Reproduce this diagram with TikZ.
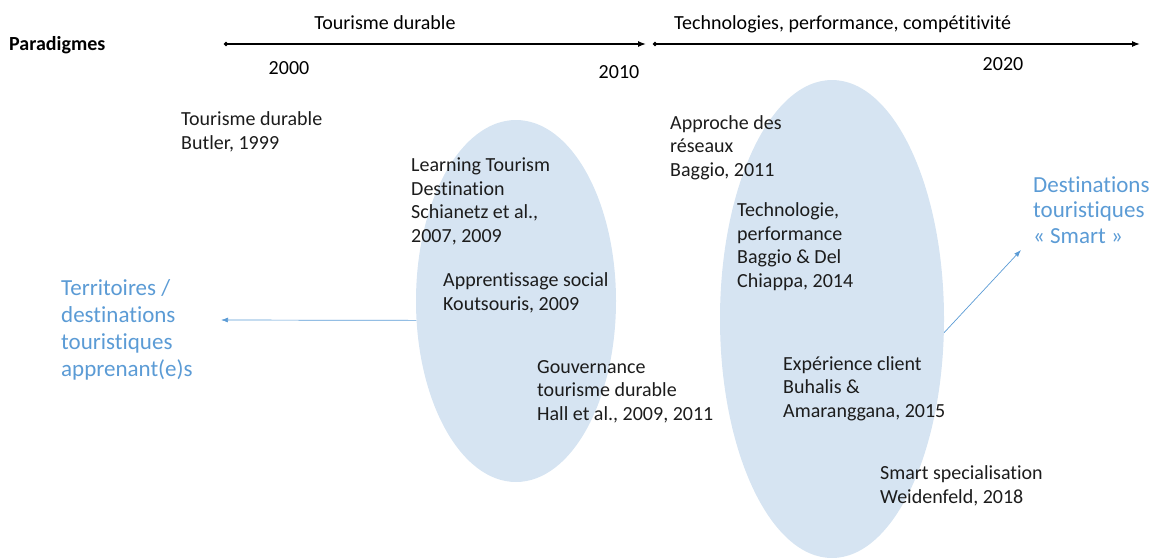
\documentclass[tikz,border=0pt]{standalone}
\usepackage{fontspec}
\setmainfont{Carlito}[Ligatures={NoCommon}]
\usepackage{tikz}
\usetikzlibrary{arrows.meta,shapes.geometric}
\usepackage{xcolor}
\definecolor{ellfill}{HTML}{D6E4F2}
\definecolor{refgray}{HTML}{1C1C1C}
\definecolor{outblue}{HTML}{5B9BD5}

% multi-line nodes: base anchor = baseline of the last line
\tikzset{
  ref/.style={anchor=base west, align=left, inner sep=0pt, text=refgray,
    font=\fontsize{20}{23.5}\selectfont},
  outcome/.style={anchor=base west, align=left, inner sep=0pt, text=outblue,
    font=\fontsize{23}{26}\selectfont},
  year/.style={anchor=base, inner sep=0pt, font=\fontsize{20}{22}\selectfont},
  period/.style={anchor=base, inner sep=0pt, font=\fontsize{20}{22}\selectfont},
  blob/.style={ellipse, fill=ellfill, inner sep=0pt},
  axis/.style={line width=1.3pt, {Circle[length=4pt]}-{Latex[length=8pt,width=6pt]}},
  link/.style={outblue, line width=0.7pt, -{Latex[length=7pt,width=5pt]}}
}

\begin{document}
\begin{tikzpicture}[x=1pt,y=-1pt]
\useasboundingbox (0,0) rectangle (1152,558);

% ellipses
\node[blob,minimum width=200pt,minimum height=362pt] (learning) at (516,301) {};
\node[blob,minimum width=224pt,minimum height=478pt] (smart) at (832,319) {};

% time line
\node[anchor=base west,inner sep=0pt,font=\fontsize{20}{22}\selectfont\bfseries] (parad) at (9,50) {Paradigmes};
\coordinate (t2000) at (224,44);
\coordinate (t2010) at (646,44);
\coordinate (t2010b) at (653,44);
\coordinate (tend) at (1140,44);
\draw[axis] (t2000) -- (t2010);
\draw[axis] (t2010b) -- (tend);
\node[period] (durable) at (385,29) {Tourisme durable};
\node[period,anchor=base west] (techno) at (674,29) {Technologies, performance, compétitivité};
\node[year] (y2000) at (289,74) {2000};
\node[year] (y2010) at (619,78) {2010};
\node[year] (y2020) at (1003,70) {2020};

% references
\node[ref] (butler) at (181,149) {Tourisme durable\\Butler, 1999};
\node[ref] (schianetz) at (411,242) {Learning Tourism\\Destination\\Schianetz et al.,\\2007, 2009};
\node[ref] (koutsouris) at (443,310) {Apprentissage social\\Koutsouris, 2009};
\node[ref] (hall) at (537,420) {Gouvernance\\tourisme durable\\Hall et al., 2009, 2011};
\node[ref] (baggio) at (670,176) {Approche des\\réseaux\\Baggio, 2011};
\node[ref] (chiappa) at (737,287) {Technologie,\\performance\\Baggio \& Del\\Chiappa, 2014};
\node[ref] (buhalis) at (783,417) {Expérience client\\Buhalis \&\\Amaranggana, 2015};
\node[ref] (weidenfeld) at (880,503) {Smart specialisation\\Weidenfeld, 2018};

% outcomes
\node[outcome,font=\fontsize{23}{27}\selectfont] (territoires) at (61,376) {Territoires /\\destinations\\touristiques\\apprenant(e)s};
\node[outcome,font=\fontsize{23}{25.5}\selectfont] (destsmart) at (1033,243) {Destinations\\touristiques\\« Smart »};
\coordinate (terrtip) at (221,320);
\coordinate (smarttip) at (1021,250);

\draw[link] (learning.191) -- (terrtip);
\draw[link] (smart.353) -- (smarttip);
\end{tikzpicture}
\end{document}
